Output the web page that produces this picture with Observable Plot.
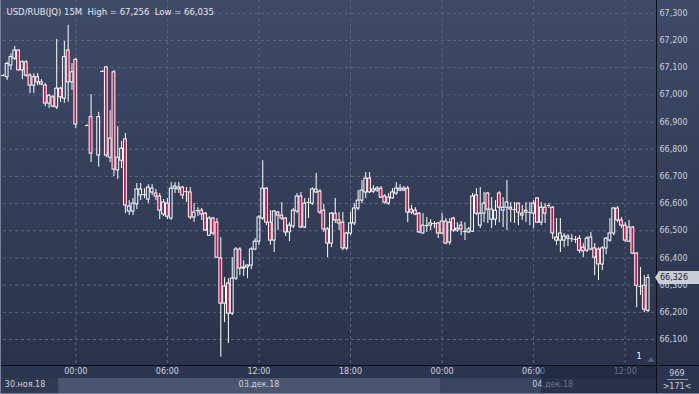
<!DOCTYPE html>
<html><head><meta charset="utf-8">
<script src="https://cdn.jsdelivr.net/npm/d3@7"></script>
<script src="https://cdn.jsdelivr.net/npm/@observablehq/plot@0.6"></script>
<style>
html,body{margin:0;padding:0;background:#2c3550;}
#chart{width:699px;height:394px;overflow:hidden;}
svg{display:block;}
</style></head><body><div id="chart"></div>
<script>
const title = "USD/RUB(JQ) 15M  High = 67,256  Low = 66,035";
const open = [67.071,67.065,67.108,67.133,67.163,67.090,67.120,67.071,67.034,67.065,67.038,67.034,66.968,66.991,66.954,67.023,66.986,67.163,67.046,67.129,null,null,66.887,66.918,null,66.777,67.086,67.101,66.769,67.083,66.722,66.758,66.836,66.571,66.571,66.597,66.630,66.633,66.615,66.641,66.637,66.626,66.560,66.600,66.545,66.655,66.652,66.659,66.644,66.641,66.549,66.574,66.574,66.563,66.482,66.545,66.530,66.398,66.232,66.306,66.195,66.324,66.431,66.365,66.365,66.372,66.431,66.460,66.545,66.655,66.530,66.464,66.567,66.556,66.545,66.494,66.516,66.571,66.626,66.512,66.604,66.600,66.641,66.644,66.574,66.505,66.453,66.563,66.538,66.530,66.435,66.490,66.527,66.582,66.611,66.641,66.692,66.644,66.648,66.655,66.626,66.600,66.619,66.637,66.648,66.655,66.655,66.567,66.574,66.563,66.490,66.519,66.519,66.527,66.527,66.490,66.534,66.457,66.545,66.501,66.519,66.497,66.494,66.497,66.630,66.519,66.563,66.637,66.541,66.541,66.637,66.574,66.585,66.585,66.578,66.600,66.556,66.567,66.567,66.563,66.619,66.530,66.585,66.593,66.585,66.475,66.464,66.464,66.471,66.471,66.468,66.471,66.438,66.427,66.431,66.435,66.431,66.376,66.435,66.464,66.490,66.582,66.538,66.519,66.460,66.512,66.416,66.295,66.298,66.206];
const high = [67.075,67.120,67.151,67.178,67.165,67.126,67.126,67.078,67.078,67.078,67.056,67.042,67.001,66.997,67.204,67.027,67.197,67.256,67.115,67.134,null,null,66.890,67.001,null,66.936,67.090,67.104,66.942,67.090,66.883,66.828,66.858,66.611,66.619,66.674,66.674,66.655,66.670,66.670,66.652,66.637,66.615,66.619,66.677,66.677,66.677,66.663,66.659,66.659,66.600,66.585,66.582,66.567,66.552,66.549,66.545,66.475,66.328,66.324,66.401,66.438,66.438,66.390,66.374,66.438,66.471,66.556,66.758,66.659,66.574,66.574,66.571,66.604,66.549,66.530,66.582,66.637,66.641,66.619,66.619,66.659,66.711,66.652,66.597,66.512,66.567,66.619,66.567,66.567,66.494,66.567,66.600,66.648,66.685,66.714,66.714,66.666,66.663,66.663,66.633,66.637,66.655,66.677,66.670,66.663,66.663,66.593,66.585,66.567,66.563,66.549,66.541,66.534,66.530,66.563,66.545,66.545,66.549,66.530,66.534,66.530,66.512,66.637,66.655,66.659,66.641,66.641,66.622,66.611,66.644,66.622,66.685,66.604,66.604,66.602,66.593,66.604,66.604,66.611,66.622,66.604,66.600,66.600,66.589,66.545,66.545,66.490,66.486,66.486,66.479,66.482,66.453,66.479,66.494,66.453,66.438,66.442,66.475,66.545,66.585,66.589,66.549,66.530,66.538,66.516,66.420,66.365,66.335,66.339];
const low = [67.067,67.053,67.090,67.126,67.088,67.056,67.065,67.005,67.005,67.034,67.034,66.957,66.950,66.953,66.946,66.972,66.969,66.973,67.016,66.876,null,null,66.884,66.751,null,66.734,67.082,66.769,66.751,66.700,66.689,66.729,66.563,66.556,66.556,66.578,66.611,66.619,66.600,66.630,66.611,66.541,66.552,66.541,66.538,66.637,66.637,66.615,66.604,66.541,66.530,66.552,66.538,66.497,66.479,66.482,66.398,66.035,66.162,66.085,66.188,66.317,66.335,66.332,66.324,66.357,66.427,66.446,66.538,66.519,66.446,66.420,66.501,66.538,66.479,66.460,66.508,66.563,66.508,66.508,66.545,66.593,66.637,66.560,66.494,66.401,66.438,66.527,66.501,66.427,66.427,66.482,66.519,66.574,66.600,66.619,66.637,66.637,66.641,66.619,66.597,66.593,66.617,66.630,66.644,66.644,66.530,66.560,66.556,66.490,66.488,66.494,66.501,66.508,66.471,66.486,66.449,66.446,66.494,66.494,66.482,66.464,66.490,66.494,66.556,66.508,66.530,66.527,66.508,66.519,66.530,66.512,66.501,66.530,66.527,66.519,66.538,66.530,66.519,66.508,66.527,66.519,66.527,66.582,66.468,66.446,66.420,66.438,66.442,66.457,66.453,66.416,66.401,66.420,66.427,66.335,66.317,66.354,66.412,66.457,66.482,66.530,66.508,66.457,66.457,66.412,66.217,66.262,66.199,66.199];
const close = [67.070,67.114,67.139,67.163,67.090,67.120,67.071,67.034,67.065,67.046,67.046,66.968,66.997,66.957,67.023,66.991,67.139,67.046,67.083,66.891,null,null,66.887,66.784,null,66.918,67.086,66.777,66.839,66.725,66.769,66.802,66.593,66.589,66.600,66.652,66.652,66.634,66.659,66.655,66.626,66.574,66.604,66.552,66.655,66.663,66.659,66.630,66.643,66.549,66.567,66.573,66.560,66.501,66.545,66.490,66.401,66.232,66.295,66.195,66.324,66.431,66.361,66.361,66.372,66.431,66.460,66.549,66.655,66.530,66.464,66.571,66.556,66.545,66.494,66.519,66.574,66.626,66.512,66.600,66.603,66.652,66.652,66.567,66.505,66.453,66.563,66.538,66.527,66.435,66.490,66.527,66.582,66.611,66.648,66.692,66.641,66.652,66.655,66.622,66.604,66.622,66.641,66.655,66.655,66.648,66.567,66.578,66.560,66.494,66.519,66.518,66.527,66.526,66.490,66.534,66.453,66.530,66.501,66.508,66.505,66.496,66.505,66.626,66.563,66.563,66.600,66.578,66.578,66.574,66.585,66.585,66.604,66.578,66.577,66.567,66.563,66.574,66.566,66.600,66.530,66.585,66.563,66.592,66.490,66.464,66.490,66.479,66.479,66.470,66.467,66.427,66.424,66.471,66.475,66.401,66.376,66.435,66.471,66.490,66.582,66.538,66.519,66.464,66.512,66.416,66.298,66.294,66.210,66.326];

const yTicks = [66.1,66.2,66.3,66.4,66.5,66.6,66.7,66.8,66.9,67.0,67.1,67.2,67.3];
const timeTickSlots = [19,43,67,91,115,139,163];
const timeTickLabels = ["00:00","06:00","12:00","18:00","00:00","06:00","12:00"];
const dateLabels = ["30.ноя.18","03.дек.18","04.дек.18"];
const dateLabelSlots = [0.4,67,144];
const dateBandStarts = [0,14.5,114.6];
const lastClose = 66.326;
const totalBars = "969";
const visibleBars = ">171<";

const fmt = v => v.toFixed(3).replace(".", ",");
const candles = [];
for (let i = 0; i < open.length; i++) {
  if (open[i] == null) continue;
  const o = open[i], c = close[i];
  candles.push({i, o, c, h: high[i], l: low[i], top: Math.max(o, c), bot: Math.min(o, c), up: c >= o});
}
const bodies = candles.filter(d => d.top - d.bot > 0.002);
const upBodies = bodies.filter(d => d.up);
const downBodies = bodies.filter(d => !d.up);
const flats = candles.filter(d => d.top - d.bot <= 0.002);

const txt = "#cdd2dc";
const grid = "#5a6684";
const plot = Plot.plot({
  width: 699, height: 394,
  marginLeft: 3, marginRight: 43, marginTop: 0, marginBottom: 29,
  x: {domain: [0.05, 171.2], axis: null},
  y: {domain: [66.0044, 67.3472], axis: null},
  style: {background: "transparent", fontFamily: "'DejaVu Sans', sans-serif", fontSize: "8px", overflow: "visible"},
  marks: [
    Plot.ruleY(yTicks, {stroke: grid, strokeDasharray: "3,3"}),
    Plot.ruleX(timeTickSlots, {stroke: grid, strokeDasharray: "3,3"}),
    Plot.ruleX(candles, {x: "i", y1: "h", y2: "top", stroke: "#ffffff"}),
    Plot.ruleX(candles, {x: "i", y1: "bot", y2: "l", stroke: "#ffffff"}),
    Plot.rect(upBodies, {x1: d => d.i - 0.37, x2: d => d.i + 0.37, y1: "bot", y2: "top", fill: "none", stroke: "#ffffff"}),
    Plot.rect(downBodies, {x1: d => d.i - 0.37, x2: d => d.i + 0.37, y1: "bot", y2: "top", fill: "#c2184a", stroke: "#ffffff"}),
    Plot.ruleY(flats, {y: "o", x1: d => d.i - 0.45, x2: d => d.i + 0.45, stroke: "#ffffff"}),
    Plot.text(yTicks, {y: d => d, text: d => fmt(d), frameAnchor: "right", textAnchor: "start", dx: 3, fill: txt}),
    Plot.text(timeTickSlots, {x: d => d, text: (d, k) => timeTickLabels[k], frameAnchor: "bottom", dy: 8, fill: txt}),
    Plot.text(dateLabelSlots.slice(0, 1), {x: d => d, text: (d, k) => dateLabels[k], textAnchor: "start", frameAnchor: "bottom", dy: 21, fill: txt}),
    Plot.text(dateLabelSlots.slice(1), {x: d => d, text: (d, k) => dateLabels[k + 1], textAnchor: "middle", frameAnchor: "bottom", dy: 21, fill: txt}),
    Plot.text([title], {frameAnchor: "top-left", dx: 3, dy: 8, fill: "#e4e6ea", fontSize: 8.5}),
    Plot.text(["1"], {x: [166.6], frameAnchor: "bottom", dy: -7, fill: "#ffffff"})
  ]
});

const svg = d3.select(plot);
const yS = plot.scale("y"), xS = plot.scale("x");
const bg = svg.insert("g", ":first-child");
const grad = bg.append("defs").append("linearGradient").attr("id", "bgGrad").attr("x1", 0).attr("y1", 0).attr("x2", 0).attr("y2", 1);
grad.append("stop").attr("offset", "0%").attr("stop-color", "#3e4a67");
grad.append("stop").attr("offset", "100%").attr("stop-color", "#2a334b");
bg.append("rect").attr("width", 699).attr("height", 365).attr("fill", "url(#bgGrad)");
bg.append("rect").attr("y", 365).attr("width", 699).attr("height", 29).attr("fill", "#2c3550");
const bandX = dateBandStarts.map(s => xS.apply(s));
bandX.push(656);
const bandFill = ["#2f3952", "#4a5570", "#3a4560"];
for (let k = 0; k < 3; k++) {
  const x0 = k === 0 ? 0 : bandX[k];
  bg.append("rect").attr("x", x0).attr("y", 378).attr("width", bandX[k + 1] - x0).attr("height", 15).attr("fill", bandFill[k]);
}
const fg = svg.append("g").attr("text-anchor", "start");
fg.append("rect").attr("x", 541).attr("y", 366).attr("width", 115).attr("height", 27).attr("fill", "#1c2335").attr("opacity", 0.55);
fg.append("line").attr("x1", 656.5).attr("x2", 656.5).attr("y1", 0).attr("y2", 394).attr("stroke", "#0c0f17");
fg.append("line").attr("x1", 0).attr("x2", 699).attr("y1", 365.5).attr("y2", 365.5).attr("stroke", "#0c0f17");
fg.append("line").attr("x1", 0.5).attr("x2", 0.5).attr("y1", 0).attr("y2", 394).attr("stroke", "#77829a");
fg.append("line").attr("x1", 0).attr("x2", 699).attr("y1", 393.5).attr("y2", 393.5).attr("stroke", "#77829a");
fg.append("path").attr("d", "M647,362 L651,357 L655,362 Z").attr("fill", "#55607a");
const ly = yS.apply(lastClose);
fg.append("path").attr("d", `M655,${ly} L659,${ly - 6.5} L699,${ly - 6.5} L699,${ly + 6.5} L659,${ly + 6.5} Z`).attr("fill", "#c9cdd5");
fg.append("text").attr("x", 660).attr("y", ly).attr("dy", "0.32em").attr("text-anchor", "start").attr("font-size", 8).attr("fill", "#1c2130").text(fmt(lastClose));
fg.append("text").attr("x", 677).attr("y", 373).attr("dy", "0.32em").attr("text-anchor", "middle").attr("font-size", 8).attr("fill", txt).text(totalBars);
fg.append("line").attr("x1", 667).attr("x2", 688).attr("y1", 379.5).attr("y2", 379.5).attr("stroke", "#8b94a8");
fg.append("text").attr("x", 677).attr("y", 386).attr("dy", "0.32em").attr("text-anchor", "middle").attr("font-size", 8).attr("fill", txt).text(visibleBars);
document.getElementById("chart").appendChild(plot);
</script></body></html>
